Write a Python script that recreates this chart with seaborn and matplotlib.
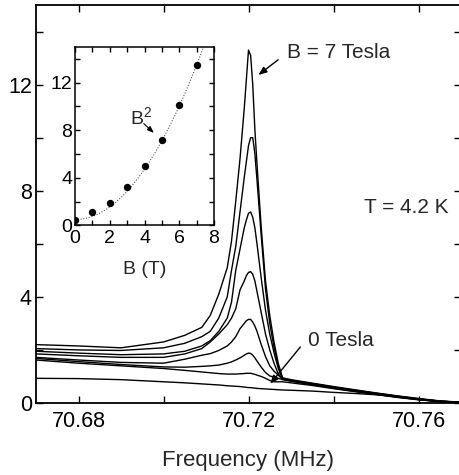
import numpy as np
import pandas as pd
import seaborn as sns
import matplotlib.pyplot as plt
from matplotlib.ticker import MultipleLocator

# frequency grid (MHz) shared by all traces
freq = [70.670, 70.680, 70.690, 70.700, 70.705, 70.709, 70.711, 70.713,
        70.715, 70.716, 70.717, 70.718, 70.719, 70.7195, 70.720, 70.7205,
        70.721, 70.7215, 70.722, 70.723, 70.724, 70.725, 70.726, 70.727,
        70.728, 70.730, 70.735, 70.740, 70.745, 70.750, 70.755, 70.760,
        70.765, 70.770]

# signal for each field (Tesla)
sig_7T = [2.20, 2.15, 2.08, 2.30, 2.55, 2.85, 3.30, 4.10, 5.10, 6.10, 7.60, 9.20,
          11.1, 12.2, 13.3, 13.1, 12.0, 10.3, 9.00, 6.60, 4.60, 3.30, 2.30, 1.50,
          0.95, 0.88, 0.75, 0.62, 0.50, 0.38, 0.27, 0.17, 0.08, 0.03]
sig_6T = [2.05, 2.00, 1.98, 2.08, 2.25, 2.50, 2.70, 3.20, 4.00, 5.00, 5.90, 7.20,
          8.50, 9.10, 9.70, 10.0, 10.0, 9.40, 8.40, 6.30, 4.30, 3.00, 2.10, 1.40,
          0.93, 0.86, 0.73, 0.60, 0.48, 0.37, 0.26, 0.16, 0.07, 0.03]
sig_5T = [1.95, 1.88, 1.82, 1.85, 1.95, 2.15, 2.35, 2.70, 3.20, 3.80, 5.00, 5.80,
          6.60, 6.90, 7.15, 7.20, 7.00, 6.60, 6.00, 4.70, 3.50, 2.60, 1.90, 1.30,
          0.92, 0.85, 0.72, 0.60, 0.47, 0.36, 0.25, 0.15, 0.07, 0.02]
sig_4T = [1.85, 1.78, 1.72, 1.72, 1.85, 2.05, 2.30, 2.60, 2.95, 3.20, 3.55, 4.26,
          4.60, 4.80, 4.92, 4.95, 4.85, 4.60, 4.20, 3.40, 2.60, 2.00, 1.50, 1.10,
          0.90, 0.84, 0.70, 0.58, 0.46, 0.35, 0.24, 0.14, 0.06, 0.02]
sig_3T = [1.72, 1.62, 1.53, 1.50, 1.65, 1.80, 1.86, 1.98, 2.15, 2.30, 2.50, 2.80,
          3.00, 3.10, 3.15, 3.15, 3.05, 2.90, 2.70, 2.20, 1.75, 1.40, 1.20, 1.05,
          0.90, 0.83, 0.70, 0.57, 0.45, 0.34, 0.23, 0.13, 0.06, 0.02]
sig_2T = [1.68, 1.56, 1.45, 1.36, 1.35, 1.38, 1.40, 1.43, 1.50, 1.55, 1.62, 1.70,
          1.80, 1.85, 1.88, 1.87, 1.80, 1.70, 1.58, 1.35, 1.15, 1.02, 0.97, 0.93,
          0.88, 0.82, 0.69, 0.56, 0.44, 0.33, 0.22, 0.13, 0.05, 0.02]
sig_1T = [1.62, 1.50, 1.40, 1.30, 1.23, 1.17, 1.14, 1.11, 1.09, 1.09, 1.09, 1.10,
          1.11, 1.12, 1.12, 1.12, 1.10, 1.08, 1.05, 1.00, 0.93, 0.85, 0.80, 0.80,
          0.80, 0.76, 0.66, 0.54, 0.43, 0.32, 0.21, 0.12, 0.05, 0.01]
sig_0T = [0.93, 0.92, 0.88, 0.80, 0.76, 0.72, 0.70, 0.68, 0.65, 0.64, 0.63, 0.62,
          0.60, 0.59, 0.58, 0.58, 0.57, 0.56, 0.55, 0.54, 0.53, 0.52, 0.51, 0.50,
          0.49, 0.48, 0.45, 0.40, 0.36, 0.31, 0.24, 0.15, 0.07, 0.02]

fields = [7, 6, 5, 4, 3, 2, 1, 0]
signals = [sig_7T, sig_6T, sig_5T, sig_4T, sig_3T, sig_2T, sig_1T, sig_0T]

# inset: peak height vs field
b_field = [0, 1, 2, 3, 4, 5, 6, 7]
peak_height = [0.46, 1.10, 1.87, 3.20, 5.00, 7.20, 10.1, 13.5]
fit_offset = 0.5
fit_coef = 0.265

rows = []
for b, s in zip(fields, signals):
    for f, v in zip(freq, s):
        rows.append((f, v, b))
df = pd.DataFrame(rows, columns=['freq', 'signal', 'field'])

sns.set_style('ticks')
plt.rcParams['font.family'] = ['Liberation Sans', 'DejaVu Sans']
plt.rcParams['mathtext.fontset'] = 'custom'
plt.rcParams['mathtext.rm'] = 'Liberation Sans'
plt.rcParams['mathtext.default'] = 'regular'

fig = plt.figure(figsize=(4.59, 4.75), dpi=100)
ax = fig.add_axes([36/459, 72/475, 425/459, 398/475])

sns.lineplot(data=df, x='freq', y='signal', units='field', estimator=None,
             color='black', lw=1.0, ax=ax, legend=False)

ax.set_xlim(70.67, 70.77)
ax.set_ylim(0, 15)
ax.xaxis.set_major_locator(MultipleLocator(0.04))
ax.xaxis.set_minor_locator(MultipleLocator(0.02))
ax.yaxis.set_major_locator(MultipleLocator(4))
ax.yaxis.set_minor_locator(MultipleLocator(2))
ax.set_xticks([70.68, 70.72, 70.76])
ax.set_xticklabels(['70.68', '70.72', '70.76'])
ax.tick_params(which='both', direction='in', top=True, right=True,
               length=5, width=1, labelsize=15.5, colors='black')
ax.tick_params(axis='x', pad=6)
ax.tick_params(axis='y', pad=3)
for sp in ax.spines.values():
    sp.set_linewidth(1.3)
    sp.set_color('black')
ax.set_xlabel('Frequency (MHz)', fontsize=16, labelpad=12.5)
ax.set_ylabel('')

ax.text(70.7291, 13.2, 'B = 7 Tesla', fontsize=15, ha='left', va='center')
ax.annotate('', xy=(70.7218, 12.3), xytext=(70.7275, 13.0),
            arrowprops=dict(arrowstyle='-|>,head_length=0.5,head_width=0.2',
                            color='black', lw=1))
ax.text(70.7471, 7.36, 'T = 4.2 K', fontsize=15, ha='left', va='center')
ax.text(70.7341, 2.35, '0 Tesla', fontsize=15, ha='left', va='center')
ax.annotate('', xy=(70.7247, 0.64), xytext=(70.7326, 2.19),
            arrowprops=dict(arrowstyle='-|>,head_length=0.5,head_width=0.2',
                            color='black', lw=1))

# inset
ins = fig.add_axes([75/459, 249.5/475, 139/459, 178.5/475])
fit_b = np.linspace(0, 7.6, 120)
sns.lineplot(x=fit_b, y=fit_offset + fit_coef * fit_b**2, ax=ins,
             color='#555555', lw=0.8, linestyle=(0, (1, 1.5)))
sns.scatterplot(x=b_field, y=peak_height, ax=ins, color='black', s=28,
                edgecolor='black', linewidth=0, zorder=3)
ins.set_xlim(0, 8)
ins.set_ylim(0, 15)
ins.xaxis.set_major_locator(MultipleLocator(2))
ins.xaxis.set_minor_locator(MultipleLocator(1))
ins.yaxis.set_major_locator(MultipleLocator(4))
ins.yaxis.set_minor_locator(MultipleLocator(2))
ins.tick_params(which='both', direction='in', top=True, right=True,
                length=3.5, width=1, labelsize=14, colors='black')
ins.tick_params(axis='x', pad=3)
ins.tick_params(axis='y', pad=2)
for sp in ins.spines.values():
    sp.set_linewidth(1.1)
    sp.set_color('black')
ins.set_xlabel('B (T)', fontsize=14, labelpad=10)
ins.set_ylabel('')
ins.text(3.17, 9.1, 'B$^2$', fontsize=14, ha='left', va='center')
ins.annotate('', xy=(4.66, 7.62), xytext=(3.84, 8.72),
             arrowprops=dict(arrowstyle='-|>,head_length=0.4,head_width=0.15',
                             color='black', lw=0.8))

fig.savefig('out.png', dpi=100)
